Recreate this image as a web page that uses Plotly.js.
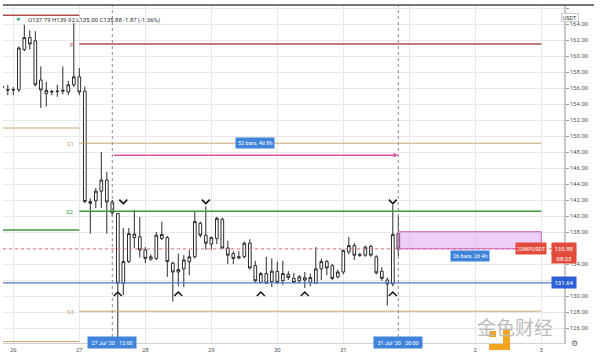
<!DOCTYPE html>
<html><head><meta charset="utf-8">
<script src="https://cdn.plot.ly/plotly-3.0.1.min.js"></script>
<style>html,body{margin:0;padding:0;background:#fff}#chart{width:600px;height:357px}</style>
</head><body><div id="chart"></div>
<script>
// ---- Data (2h bars, COMPUSDT) ----
const firstBar = '2020-07-25 20:00';
const barHours = 2;
const opens  = [156.2,155.8,155.75,155.8,160.8,162.3,161.9,157.0,155.3,155.5,155.55,155.6,155.5,156.4,157.4,155.6,141.8,141.9,143.1,144.5,
  141.75,140.3,131.6,134.3,137.3,137.4,135.75,134.6,134.7,137.2,137.3,134.1,133.0,133.4,134.3,134.9,139.1,137.6,136.5,137.2,
  139.6,136.0,135.3,134.75,134.9,136.6,133.8,131.7,132.8,131.8,133.1,131.9,132.7,132.2,131.9,132.3,131.7,131.6,133.4,134.3,
  133.8,132.4,133.0,135.5,136.3,135.1,135.1,136.2,134.9,133.1,132.0,131.5,137.79];
const highs  = [156.4,156.4,156.1,161.2,163.9,163.2,163.1,158.7,156.8,155.8,156.4,158.7,156.9,164.1,158.5,156.2,142.2,143.5,148.0,145.5,
  142.0,140.3,138.5,138.5,140.75,139.9,136.1,135.2,138.0,139.3,137.5,134.3,135.3,135.1,135.75,140.5,139.3,141.2,137.4,139.9,
  139.8,136.9,135.6,135.6,136.8,137.1,134.4,133.0,134.9,134.7,134.3,134.4,133.1,132.9,132.6,133.0,132.8,136.1,134.7,134.5,
  134.0,133.3,135.8,137.4,136.6,135.4,136.3,136.4,135.1,133.6,132.3,141.4,139.92];
const lows   = [156.0,155.1,155.1,155.5,160.6,160.8,156.2,153.5,153.7,155.1,154.9,155.2,155.1,156.1,155.1,141.6,137.8,141.0,141.0,137.8,
  140.0,123.0,130.1,134.1,136.0,134.8,134.1,134.4,134.5,137.0,132.4,129.3,131.2,131.1,132.6,134.7,137.3,135.8,135.8,136.5,
  135.9,134.0,134.0,134.6,134.7,133.3,131.7,131.6,131.5,131.1,131.5,131.4,132.0,131.6,131.6,131.0,131.2,131.5,132.0,132.6,
  132.0,132.2,132.7,135.2,134.5,134.9,134.9,134.9,132.7,131.9,128.8,131.2,135.0];
const closes = [156.1,155.75,155.8,161.0,162.3,161.5,156.4,155.75,155.7,155.55,155.6,155.7,156.4,157.4,155.5,141.8,141.6,143.1,144.5,141.75,
  140.4,131.6,134.3,137.8,137.75,135.75,134.7,134.9,137.6,137.7,134.3,133.0,133.3,134.5,134.9,139.3,137.6,136.6,137.3,139.7,
  136.0,135.1,134.7,134.9,136.6,133.5,131.9,132.8,131.6,133.1,131.7,132.8,132.3,131.7,132.4,132.0,132.3,133.4,134.3,133.5,
  132.2,133.0,135.7,136.3,135.1,135.15,136.1,135.1,132.9,132.2,131.5,137.7,135.88];

const pivotLabels = ['P','S1','S2','S3'];
const pivotLevels = [161.5,149.1,140.6,128.1];
const prevPivotLevels = [165.1,151.0,138.25,124.3];
const pivotStart = '2020-07-27 00:00', pivotEnd = '2020-08-03 00:00';
const supportLevel = 131.64;
const lastPrice = 135.88;
const countdown = '08:23';
const headerText = 'O137.79 H139.92 L135.00 C135.88 -1.87 (-1.36%)';
const measureStart = '2020-07-27 12:00', measureEnd = '2020-07-31 20:00', measureLevel = 147.6, measureText = '52 bars, 4d 8h';
const projStart = '2020-07-31 20:00', projEnd = '2020-08-03 00:00', projTop = 138.04, projBottom = 135.9, projText = '26 bars, 2d 4h';
const markTimes  = ['2020-07-27 16:00','2020-07-28 22:00','2020-07-31 18:00','2020-07-27 14:00','2020-07-28 12:00','2020-07-29 18:00','2020-07-30 10:00','2020-07-31 18:00'];
const markPrices = [141.8,141.8,141.8,130.25,130.25,130.25,130.25,130.25];
const markKinds  = ['v','v','v','^','^','^','^','^'];
const dayTicks = ['2020-07-26','2020-07-27','2020-07-28','2020-07-29','2020-07-30','2020-07-31','2020-08-01','2020-08-02','2020-08-03'];
const dayLabels = ['26','27','28','29','30','31','','2','3'];   // "1" sits under the date marker
const priceTicks = [126,128,130,132,134,136,138,140,142,144,146,148,150,152,154,156,158,160,162,164,166];
const priceTickText = ['126.00','128.00','130.00','','134.00','','138.00','140.00','142.00','144.00','146.00','148.00','150.00','152.00','154.00','156.00','158.00','160.00','162.00','164.00',''];
const xRange = ['2020-07-25 20:15','2020-08-03 08:15'];
const yRange = [124.125,166.375];

// ---- helpers ----
function toMs(s){ const [d,t]=s.split(' '); const [Y,M,D]=d.split('-').map(Number); const [h,m]=(t||'00:00').split(':').map(Number); return Date.UTC(Y,M-1,D,h,m); }
function fmt(ms){ return new Date(ms).toISOString().slice(0,19).replace('T',' '); }
const t0 = toMs(firstBar);
const times = opens.map((_,i)=>fmt(t0 + i*barHours*3600e3));

const W=600,H=357,L=3,R=36,T=5,B=14;
const pw=W-L-R, ph=H-T-B;
const PX = x => (x-L)/pw, PY = y => (H-B-y)/ph;

// chevrons
const hw = 5.2e6, hh = 0.25;
const cx=[], cy=[];
markTimes.forEach((t,i)=>{
  const m=toMs(t), p=markPrices[i], s = markKinds[i]==='v'?1:-1;
  cx.push(fmt(m-hw),fmt(m),fmt(m+hw),null);
  cy.push(p+s*hh,p-s*hh,p+s*hh,null);
});

const candle = {
  type:'candlestick', x:times, open:opens, high:highs, low:lows, close:closes,
  increasing:{line:{color:'#2b2b2b',width:1},fillcolor:'#ffffff'},
  decreasing:{line:{color:'#2b2b2b',width:1},fillcolor:'#ffffff'},
  whiskerwidth:0, hoverinfo:'skip', showlegend:false
};
const chev = {type:'scatter',mode:'lines',x:cx,y:cy,line:{color:'#111',width:1.5},hoverinfo:'skip',showlegend:false,cliponaxis:false};

const tan='#c9a272', red='#ad4f4f', green='#3f993f';
const pivColors=[red,tan,green,tan];
const prevColors=[red,tan,green,tan];
const shapes=[];
pivotLevels.forEach((v,i)=>shapes.push({type:'line',xref:'x',yref:'y',x0:pivotStart,x1:pivotEnd,y0:v,y1:v,line:{color:pivColors[i],width:i===1||i===3?1:1.6}}));
prevPivotLevels.forEach((v,i)=>shapes.push({type:'line',xref:'x',yref:'y',x0:xRange[0],x1:pivotStart,y0:v,y1:v,line:{color:prevColors[i],width:i===1||i===3?1:1.6}}));
shapes.push({type:'line',xref:'paper',yref:'y',x0:0,x1:1,y0:supportLevel,y1:supportLevel,line:{color:'#5577cc',width:1.2}});
shapes.push({type:'line',xref:'paper',yref:'y',x0:0,x1:1,y0:lastPrice,y1:lastPrice,line:{color:'#e07a7a',width:1,dash:'dot'}});
[measureStart,measureEnd].forEach(t=>shapes.push({type:'line',xref:'x',yref:'paper',x0:t,x1:t,y0:0,y1:1,line:{color:'#8a8a8a',width:1,dash:'dot'}}));
shapes.push({type:'rect',xref:'x',yref:'y',x0:projStart,x1:projEnd,y0:projBottom,y1:projTop,fillcolor:'rgba(215,140,235,0.42)',line:{color:'#cf62b8',width:1},layer:'above'});
shapes.push({type:'line',xref:'paper',yref:'paper',x0:0,x1:PX(594),y0:1,y1:1,line:{color:'#4a4a4a',width:1.5}});
// watermark logo
shapes.push({type:'rect',xref:'paper',yref:'paper',x0:PX(489),x1:PX(496),y0:PY(337),y1:PY(331),fillcolor:'#f2a51f',line:{width:0}});
shapes.push({type:'rect',xref:'paper',yref:'paper',x0:PX(503),x1:PX(510),y0:PY(350),y1:PY(329),fillcolor:'#f2a51f',line:{width:0}});
shapes.push({type:'rect',xref:'paper',yref:'paper',x0:PX(489),x1:PX(510),y0:PY(350),y1:PY(344),fillcolor:'#f2a51f',line:{width:0}});

const F='Roboto, Arial, sans-serif';
const ann=[];
ann.push({xref:'paper',yref:'paper',x:PX(14),y:PY(13),text:'●',showarrow:false,font:{family:F,size:7,color:'#2faa7a'}});
ann.push({xref:'paper',yref:'paper',x:PX(26),y:PY(14),xanchor:'left',text:headerText,showarrow:false,font:{family:F,size:6,color:'#333'}});
pivotLabels.forEach((lab,i)=>ann.push({xref:'x',yref:'y',x:pivotStart,y:pivotLevels[i],xanchor:'right',xshift:-3,text:lab,showarrow:false,font:{family:F,size:6,color:pivColors[i]}}));
ann.push({xref:'x',yref:'y',x:measureEnd,y:measureLevel,ax:measureStart,ay:measureLevel,axref:'x',ayref:'y',text:'',showarrow:true,arrowhead:2,arrowsize:0.6,arrowwidth:1.6,arrowcolor:'#e0559f'});
const midMeasure = fmt((toMs(measureStart)+toMs(measureEnd))/2);
ann.push({xref:'x',yref:'y',x:midMeasure,y:149.1,text:measureText,showarrow:false,bgcolor:'#3f84da',borderpad:2,font:{family:F,size:5.5,color:'#fff'}});
const midProj = fmt((toMs(projStart)+toMs(projEnd))/2);
ann.push({xref:'x',yref:'y',x:midProj,y:135.06,text:projText,showarrow:false,bgcolor:'#3f84da',borderpad:2,font:{family:F,size:5.5,color:'#fff'}});
// axis labels
ann.push({xref:'paper',yref:'y',x:PX(576.5),y:lastPrice,text:lastPrice.toFixed(2),showarrow:false,bgcolor:'#e24a3b',width:22,height:9,font:{family:F,size:6,color:'#fff'}});
ann.push({xref:'paper',yref:'y',x:PX(576.5),y:lastPrice,yshift:-9.5,text:countdown,showarrow:false,bgcolor:'#e24a3b',width:22,height:8,font:{family:F,size:6,color:'#fff'}});
ann.push({xref:'paper',yref:'y',x:PX(546.7),y:lastPrice,text:'COMPUSDT',showarrow:false,bgcolor:'#e24a3b',width:28,height:9,font:{family:F,size:5.5,color:'#fff'}});
ann.push({xref:'paper',yref:'y',x:PX(576.5),y:supportLevel,text:supportLevel.toFixed(2),showarrow:false,bgcolor:'#2f5fd6',width:22,height:9,font:{family:F,size:6,color:'#fff'}});
ann.push({xref:'paper',yref:'paper',x:PX(579),y:PY(13.5),text:'USDT',showarrow:false,bgcolor:'#fff',bordercolor:'#bbb',borderwidth:0.7,borderpad:1,font:{family:F,size:5.5,color:'#333'}});
ann.push({xref:'x',yref:'paper',x:measureStart,y:PY(349),text:"27 Jul '20\u00a0\u00a0\u00a012:00",showarrow:false,bgcolor:'#3f84da',width:46,height:9,font:{family:F,size:5.5,color:'#fff'}});
ann.push({xref:'x',yref:'paper',x:measureEnd,y:PY(349),text:"31 Jul '20\u00a0\u00a0\u00a020:00",showarrow:false,bgcolor:'#3f84da',width:46,height:9,font:{family:F,size:5.5,color:'#fff'}});
ann.push({xref:'paper',yref:'paper',x:PX(580),y:PY(350),text:'⚙',showarrow:false,font:{family:'DejaVu Sans',size:8,color:'#666'}});
ann.push({xref:'paper',yref:'paper',x:PX(555),y:PY(342),text:'金色财经',showarrow:false,font:{family:'Noto Sans CJK SC',size:19,color:'#bcbcbc'}});

const layout = {
  width:W,height:H,margin:{l:L,r:R,t:T,b:B,pad:0},
  paper_bgcolor:'#fff',plot_bgcolor:'#fff',showlegend:false,
  xaxis:{type:'date',range:xRange,rangeslider:{visible:false},tickvals:dayTicks,ticktext:dayLabels,
    showgrid:true,gridcolor:'#e8e8ec',gridwidth:1,zeroline:false,showline:true,linecolor:'#d0d0d0',
    ticks:'',tickfont:{family:F,size:6,color:'#555'},ticklabelstandoff:1,fixedrange:true},
  yaxis:{side:'right',range:yRange,tickmode:'array',tickvals:priceTicks,ticktext:priceTickText,showgrid:true,gridcolor:'#e8e8ec',gridwidth:1,zeroline:false,
    showline:true,linecolor:'#c8c8c8',linewidth:1.5,ticks:'outside',ticklen:3,tickcolor:'#999',
    tickfont:{family:F,size:6,color:'#555'},fixedrange:true},
  shapes:shapes, annotations:ann
};
Plotly.newPlot('chart',[candle,chev],layout,{staticPlot:true,displayModeBar:false});
</script></body></html>
